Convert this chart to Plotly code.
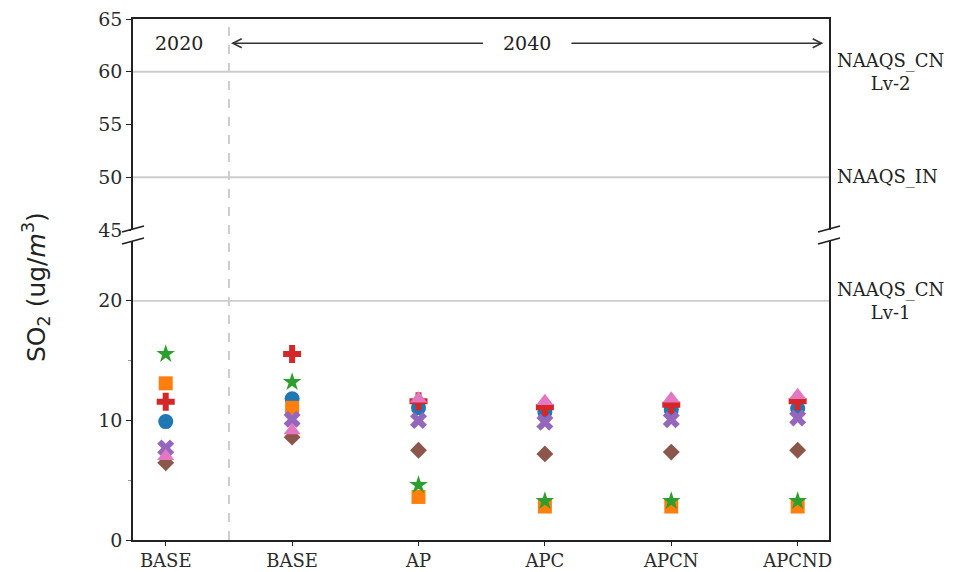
import plotly.graph_objects as go

# Scenario categories along the x axis (first is the 2020 baseline)
categories = ["BASE", "BASE", "AP", "APC", "APCN", "APCND"]
positions = [0, 1, 2, 3, 4, 5]

# SO2 concentration (ug/m3) for each site, per scenario
site_1 = [9.9, 11.8, 11.05, 10.7, 10.9, 11.0]
site_2 = [13.1, 11.05, 3.6, 2.8, 2.8, 2.8]
site_3 = [15.55, 13.2, 4.6, 3.25, 3.25, 3.25]
site_4 = [11.55, 15.55, 11.6, 11.1, 11.3, 11.6]
site_5 = [7.7, 10.1, 10.0, 9.85, 10.05, 10.2]
site_6 = [6.45, 8.6, 7.5, 7.2, 7.35, 7.5]
site_7 = [7.0, 9.15, 11.8, 11.6, 11.8, 12.1]

# Air-quality standards drawn as reference lines
standard_values = [60, 50, 20]
standard_labels = ["NAAQS_CN<br>Lv-2", "NAAQS_IN", "NAAQS_CN<br>Lv-1"]

series = [
    ("site_1", site_1, "#1f77b4", "circle", 15),
    ("site_2", site_2, "#ff7f0e", "square", 14),
    ("site_3", site_3, "#2ca02c", "star", 14),
    ("site_4", site_4, "#d62728", "cross", 15),
    ("site_5", site_5, "#9467bd", "x", 15),
    ("site_6", site_6, "#8c564b", "diamond", 13),
    ("site_7", site_7, "#e377c2", "triangle-up", 15),
]

SERIF = "DejaVu Serif"
SANS = "DejaVu Sans"
TICK_COLOR = "#2a2a2a"
TICK_SIZE = 19

# Pixel geometry of the plotting area
L, R, T, B = 133, 829, 19, 540
W, H = 972, 572


def px_x(p):
    return (p - L) / (R - L)


def px_y(p):
    return (B - p) / (B - T)


top_dom = [px_y(230), 1.0]
bot_dom = [0.0, px_y(241)]

fig = go.Figure()

# Points are plotted on the lower (0-25) panel
for name, vals, color, sym, size in series:
    fig.add_trace(go.Scatter(
        x=positions, y=vals, mode="markers", name=name,
        marker=dict(color=color, symbol=sym, size=size, line=dict(width=0)),
        xaxis="x", yaxis="y", showlegend=False,
    ))

# An invisible trace keeps the upper panel alive
fig.add_trace(go.Scatter(x=[None], y=[None], xaxis="x2", yaxis="y2",
                         showlegend=False, hoverinfo="skip"))

x_range = [-0.259, 5.248]

fig.update_layout(
    width=W, height=H,
    margin=dict(l=L, r=W - R, t=T, b=H - B, autoexpand=False),
    paper_bgcolor="white", plot_bgcolor="white",
    xaxis=dict(
        domain=[0, 1], range=x_range, anchor="y", automargin=False,
        tickvals=positions, ticktext=categories,
        showgrid=False, zeroline=False,
        showline=True, linecolor="#222222", linewidth=1.5,
        ticks="outside", ticklen=4, tickcolor="#222222",
        ticklabelstandoff=0,
        tickfont=dict(family=SERIF, size=18, color=TICK_COLOR),
    ),
    yaxis=dict(
        domain=bot_dom, range=[0, 25], anchor="x", automargin=False,
        tickvals=[0, 10, 20],
        minor=dict(tickvals=[5, 15], ticks="outside", ticklen=3, tickcolor="#999999"),
        showgrid=False, zeroline=False,
        showline=True, mirror=True, linecolor="#222222", linewidth=1.5,
        ticks="outside", ticklen=5, tickcolor="#222222",
        tickfont=dict(family=SERIF, size=TICK_SIZE, color=TICK_COLOR),
    ),
    xaxis2=dict(
        domain=[0, 1], range=x_range, anchor="y2", side="top", automargin=False,
        showticklabels=False, ticks="", showgrid=False, zeroline=False,
        showline=True, linecolor="#222222", linewidth=1.5,
    ),
    yaxis2=dict(
        domain=top_dom, range=[45, 65], anchor="x2", automargin=False,
        tickvals=[45, 50, 55, 60, 65],
        showgrid=False, zeroline=False,
        showline=True, mirror=True, linecolor="#222222", linewidth=1.5,
        ticks="outside", ticklen=5, tickcolor="#222222",
        tickfont=dict(family=SERIF, size=TICK_SIZE, color=TICK_COLOR),
    ),
)

shapes = []
annotations = []

# Standard reference lines and their labels
for val, label in zip(standard_values, standard_labels):
    yref = "y2" if val >= 45 else "y"
    shapes.append(dict(type="line", xref="paper", yref=yref,
                       x0=0, x1=1, y0=val, y1=val, layer="below",
                       line=dict(color="#cccccc", width=1.8)))
    annotations.append(dict(xref="paper", yref=yref, x=px_x(835), y=val,
                            xanchor="left", yanchor="middle", align="center",
                            text=label, showarrow=False,
                            font=dict(family=SERIF, size=18, color="#222222")))

# Dashed divider between 2020 and 2040
shapes.append(dict(type="line", xref="x", yref="paper", x0=0.5, x1=0.5,
                   y0=0, y1=1, layer="below",
                   line=dict(color="#cccccc", width=2, dash="dash")))

# Axis-break marks on both sides
for cx in (L, R):
    for y0, y1 in ((232, 226), (244, 238)):
        shapes.append(dict(type="line", xref="paper", yref="paper",
                           x0=px_x(cx - 11), x1=px_x(cx + 11),
                           y0=px_y(y0), y1=px_y(y1),
                           line=dict(color="#222222", width=1.8)))

# Double-headed span arrow for the 2040 period, split around its label
ARROW_Y = 62.7
UX = 1 / 126.4   # data units per pixel, x
UY = 1 / 10.55   # data units per pixel, upper panel y
arrow_style = dict(color="#333333", width=1.5)
for tail, head in ((2.51, 0.53), (3.21, 5.19)):
    shapes.append(dict(type="line", xref="x2", yref="y2",
                       x0=tail, x1=head, y0=ARROW_Y, y1=ARROW_Y,
                       line=arrow_style))
    d = 1 if head < tail else -1
    hx = head + d * 9 * UX
    path = (f"M {hx},{ARROW_Y + 4.5 * UY} L {head},{ARROW_Y} "
            f"L {hx},{ARROW_Y - 4.5 * UY}")
    shapes.append(dict(type="path", xref="x2", yref="y2", path=path,
                       line=arrow_style))

fig.update_layout(shapes=shapes)

# Period labels
annotations.append(dict(xref="x2", yref="y2", x=0.105, y=ARROW_Y, text="2020",
                        showarrow=False, xanchor="center", yanchor="middle",
                        font=dict(family=SERIF, size=TICK_SIZE, color="#222222")))
annotations.append(dict(xref="x2", yref="y2", x=2.86, y=ARROW_Y, text="2040",
                        showarrow=False, xanchor="center", yanchor="middle",
                        font=dict(family=SERIF, size=TICK_SIZE, color="#222222")))

# Y-axis title
annotations.append(dict(xref="paper", yref="paper", x=px_x(36), y=px_y(287),
                        text="SO<sub>2</sub> (ug/<i>m</i><sup>3</sup>)",
                        textangle=-90, showarrow=False,
                        xanchor="center", yanchor="middle",
                        font=dict(family=SANS, size=25, color="#222222")))

fig.update_layout(annotations=annotations)

fig.write_html("out.html")
